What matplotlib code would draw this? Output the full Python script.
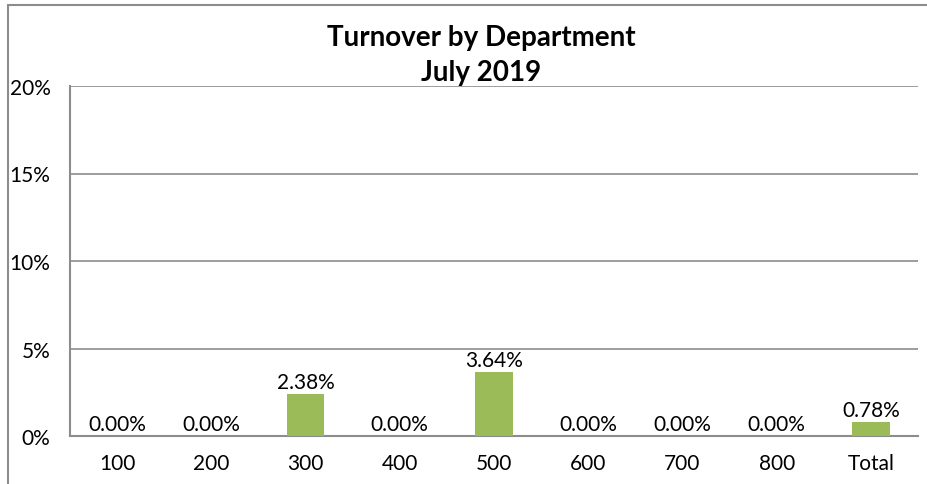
import matplotlib
matplotlib.use("Agg")
import matplotlib.pyplot as plt
from matplotlib.patches import Rectangle
from matplotlib.ticker import FuncFormatter, MultipleLocator

departments = ["100", "200", "300", "400", "500", "600", "700", "800", "Total"]
turnover = [0.00, 0.00, 2.38, 0.00, 3.64, 0.00, 0.00, 0.00, 0.78]

plt.rcParams["font.family"] = ["Lato", "DejaVu Sans"]

fig = plt.figure(figsize=(9.28, 4.85), dpi=100)
fig.patch.set_facecolor("white")

# chart-area frame (runs off the right and bottom edges)
fig.patches.append(Rectangle((8 / 928, -0.1), 1.2, 1 - 6 / 485 + 0.1,
                             transform=fig.transFigure, fill=False,
                             edgecolor="#8c8c8c", linewidth=1.5))

ax = fig.add_axes([70 / 928, 1 - 437 / 485, 848 / 928, 350 / 485])
x = range(len(departments))
bars = ax.bar(x, turnover, width=0.4, color="#9BBB59", zorder=3)

ax.set_xlim(-0.5, len(departments) - 0.5)
ax.set_ylim(0, 20)
ax.yaxis.set_major_locator(MultipleLocator(5))
ax.yaxis.set_major_formatter(FuncFormatter(lambda v, p: f"{v:.0f}%"))
ax.grid(axis="y", color="#8c8c8c", linewidth=1.2, zorder=0)
ax.set_xticks(list(x))
ax.set_xticklabels(departments)
ax.tick_params(axis="both", length=0, labelsize=15, colors="black")
ax.tick_params(axis="y", pad=14)
ax.tick_params(axis="x", pad=12)

for side in ("top", "right"):
    ax.spines[side].set_visible(False)
for side in ("left", "bottom"):
    ax.spines[side].set_color("#8c8c8c")
    ax.spines[side].set_linewidth(1.5)

for xi, v in zip(x, turnover):
    ax.annotate(f"{v:.2f}%", (xi, v), xytext=(0, 1.5), textcoords="offset points",
                ha="center", va="bottom", fontsize=15)

fig.text(481 / 928, 1 - 38 / 485, "Turnover by Department", ha="center", va="center",
         fontsize=20, fontweight="bold")
fig.text(481 / 928, 1 - 73 / 485, "July 2019", ha="center", va="center",
         fontsize=20, fontweight="bold")

fig.savefig("out.png", dpi=100)
